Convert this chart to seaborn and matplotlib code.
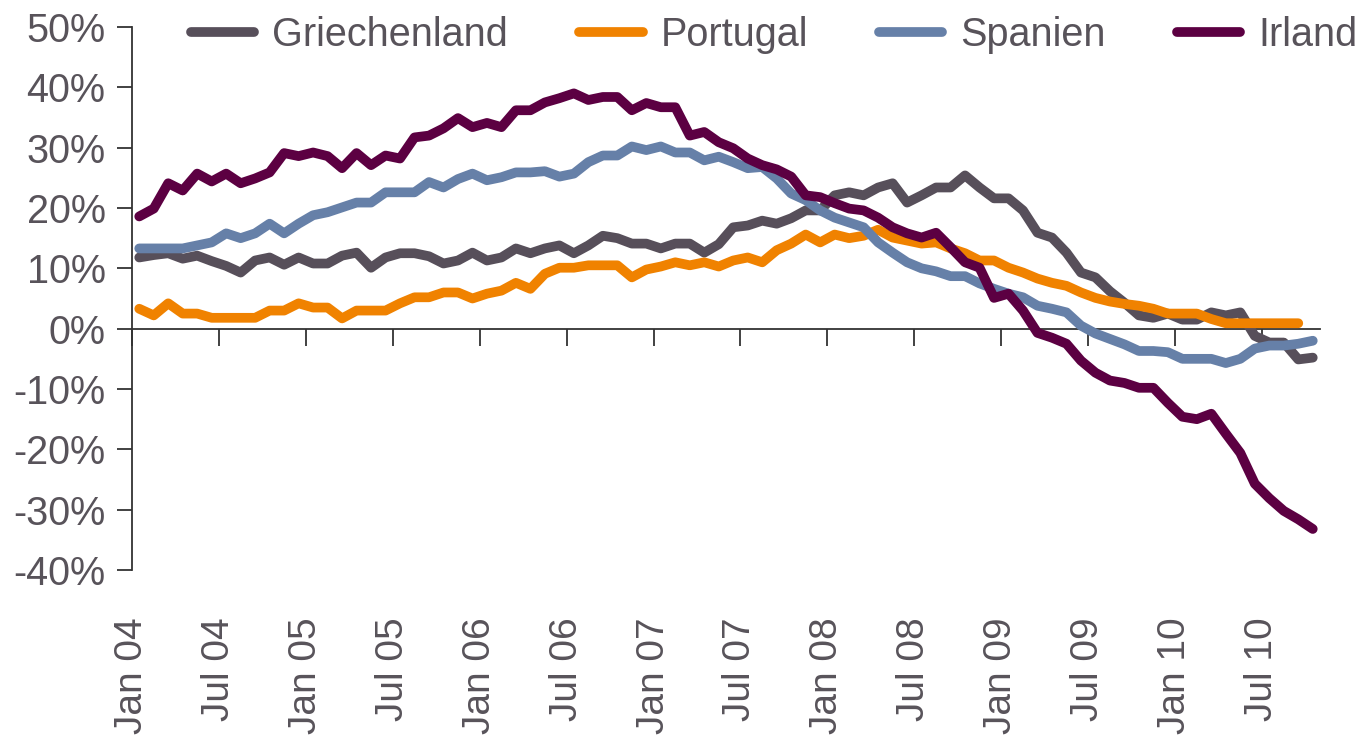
import numpy as np
import pandas as pd
import matplotlib
matplotlib.use('Agg')
import matplotlib.pyplot as plt
import seaborn as sns

# Monatswerte Jan 2004 - Okt/Nov 2010, Veraenderung ggü. Vorjahr in %
griechenland = [11.8, 12.2, 12.5, 11.6, 12.1, 11.2, 10.4, 9.3, 11.3, 11.8, 10.6, 11.8, 10.8, 10.8,
                12.1, 12.6, 10.1, 11.8, 12.5, 12.5, 12.0, 10.8, 11.3, 12.6, 11.3, 11.8, 13.3,
                12.5, 13.3, 13.8, 12.5, 13.8, 15.4, 15.0, 14.1, 14.1, 13.3, 14.1, 14.1, 12.6, 14.0,
                16.8, 17.1, 17.9, 17.4, 18.3, 19.6, 19.6, 22.1, 22.6, 22.1, 23.4, 24.1, 20.9,
                22.1, 23.4, 23.4, 25.4, 23.4, 21.6, 21.6, 19.6, 15.9, 15.1, 12.6, 9.3, 8.5, 6.2,
                4.3, 2.2, 1.8, 2.5, 1.5, 1.5, 2.7, 2.2, 2.7, -1.2, -2.3, -2.3, -5.1, -4.8]
portugal = [3.3, 2.2, 4.2, 2.5, 2.5, 1.8, 1.8, 1.8, 1.8, 3.0, 3.0, 4.2, 3.5, 3.5,
            1.7, 3.0, 3.0, 3.0, 4.2, 5.2, 5.2, 6.0, 6.0, 5.0, 5.8, 6.3, 7.6,
            6.6, 9.1, 10.1, 10.1, 10.5, 10.5, 10.5, 8.5, 9.8, 10.3, 11.0, 10.5, 11.0, 10.3,
            11.3, 11.8, 11.0, 13.0, 14.1, 15.6, 14.3, 15.6, 15.0, 15.4, 16.4, 15.1, 14.6,
            14.1, 14.3, 13.3, 12.5, 11.3, 11.3, 10.1, 9.3, 8.3, 7.6, 7.1, 6.0, 5.1, 4.5,
            4.1, 3.8, 3.3, 2.5, 2.5, 2.5, 1.6, 0.9, 0.9, 0.9, 0.9, 0.9, 0.9]
spanien = [13.3, 13.3, 13.3, 13.3, 13.8, 14.3, 15.8, 15.0, 15.8, 17.4, 15.8, 17.4, 18.8, 19.3,
           20.1, 20.9, 20.9, 22.6, 22.6, 22.6, 24.3, 23.4, 24.8, 25.7, 24.6, 25.1, 25.9,
           25.9, 26.1, 25.2, 25.7, 27.6, 28.7, 28.7, 30.2, 29.6, 30.2, 29.2, 29.2, 27.9, 28.5,
           27.6, 26.6, 26.8, 24.9, 22.4, 21.3, 19.6, 18.4, 17.6, 16.8, 14.3, 12.6, 11.0,
           10.0, 9.5, 8.7, 8.7, 7.5, 6.6, 5.8, 5.2, 3.8, 3.3, 2.7, 0.5, -0.8, -1.7,
           -2.6, -3.7, -3.7, -3.9, -5.0, -5.0, -5.0, -5.7, -5.0, -3.3, -2.8, -2.8, -2.5, -2.0]
irland = [18.6, 19.9, 24.1, 22.9, 25.7, 24.4, 25.7, 24.1, 24.9, 25.9, 29.1, 28.6, 29.2, 28.6,
          26.6, 29.1, 27.1, 28.7, 28.2, 31.7, 32.0, 33.2, 34.9, 33.4, 34.1, 33.4, 36.2,
          36.2, 37.5, 38.2, 39.0, 37.9, 38.4, 38.4, 36.2, 37.4, 36.7, 36.7, 32.0, 32.6, 30.9,
          29.9, 28.2, 27.1, 26.4, 25.2, 22.1, 21.8, 20.8, 19.9, 19.6, 18.4, 16.8, 15.8,
          15.1, 15.9, 13.5, 11.0, 10.1, 5.1, 5.8, 3.0, -0.7, -1.5, -2.5, -5.3, -7.3, -8.6,
          -9.0, -9.8, -9.8, -12.3, -14.6, -15.0, -14.1, -17.4, -20.6, -25.7, -28.1, -30.2, -31.6, -33.2]

laender = ['Griechenland', 'Portugal', 'Spanien', 'Irland']
farben = ['#574f5a', '#f08200', '#6680a8', '#5c0042']
x_ticklabels = ['Jan 04', 'Jul 04', 'Jan 05', 'Jul 05', 'Jan 06', 'Jul 06', 'Jan 07',
                'Jul 07', 'Jan 08', 'Jul 08', 'Jan 09', 'Jul 09', 'Jan 10', 'Jul 10']
y_ticks = [50, 40, 30, 20, 10, 0, -10, -20, -30, -40]

TEXT_COLOR = '#58535a'
AXIS_COLOR = '#333333'

# Long-Format fuer seaborn, Datenpunkte jeweils Monatsmitte
rows = []
for land, werte in zip(laender, [griechenland, portugal, spanien, irland]):
    for i, w in enumerate(werte):
        rows.append({'land': land, 'monat': i + 0.5, 'wert': w})
df = pd.DataFrame(rows)

sns.set_style('white')
plt.rcParams['font.family'] = ['Liberation Sans', 'DejaVu Sans']

fig = plt.figure(figsize=(13.63, 7.39), dpi=100)
ax = fig.add_axes([132 / 1363, 1 - 570 / 739, (1320 - 132) / 1363, (570 - 27) / 739])

sns.lineplot(data=df, x='monat', y='wert', hue='land', hue_order=laender,
             palette=farben, linewidth=7, ax=ax)

ax.set_xlim(0, 82)
ax.set_ylim(-40, 50)
ax.set_xlabel('')
ax.set_ylabel('')

# y-Achse
ax.set_yticks(y_ticks)
ax.set_yticklabels([f'{v}%' for v in y_ticks])
ax.tick_params(axis='y', left=True, length=11, width=1.3, color=AXIS_COLOR,
               pad=8, labelsize=28.5, labelcolor=TEXT_COLOR)

# x-Beschriftung unten, ohne Striche
x_ticks = np.arange(0, 6 * len(x_ticklabels), 6)
ax.set_xticks(x_ticks)
ax.set_xticklabels(x_ticklabels, rotation=90)
ax.tick_params(axis='x', bottom=False, length=0, pad=34, labelsize=28, labelcolor=TEXT_COLOR)

for side in ['top', 'right', 'bottom']:
    ax.spines[side].set_visible(False)
ax.spines['left'].set_color(AXIS_COLOR)
ax.spines['left'].set_linewidth(1.3)

# Nulllinie mit Strichen als zweite x-Achse
sec = ax.secondary_xaxis(0, transform=ax.transData)
sec.set_xticks(x_ticks)
sec.xaxis.set_ticks_position('bottom')
sec.tick_params(axis='x', length=12, width=1.3, color=AXIS_COLOR, labelbottom=False, labeltop=False)
sec.spines['bottom'].set_color(AXIS_COLOR)
sec.spines['bottom'].set_linewidth(1.3)
sec.spines['top'].set_visible(False)

# Legende oben
handles, labels = ax.get_legend_handles_labels()
ax.get_legend().remove()
leg = ax.legend(handles, labels, loc='center', bbox_to_anchor=(0.568, 0.953),
                bbox_transform=fig.transFigure, ncol=4, frameon=False, fontsize=28.5,
                handlelength=1.6, handletextpad=0.45, columnspacing=1.8,
                labelcolor=TEXT_COLOR, borderpad=0, borderaxespad=0)
for line in leg.get_lines():
    line.set_linewidth(7)

fig.savefig('out.png', dpi=100)
plt.close(fig)
